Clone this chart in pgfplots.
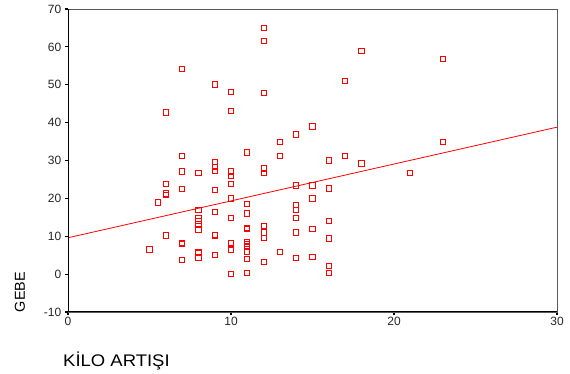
\documentclass[border=0pt]{standalone}
\usepackage{fontspec}
\setmainfont{Liberation Sans}
\newfontfamily\widefont[FakeStretch=1.1]{Liberation Sans}
\usepackage{pgfplots}
\pgfplotsset{compat=1.18}
\begin{document}
\begin{tikzpicture}
\useasboundingbox (0,0) rectangle (570bp,374bp);
\begin{axis}[
  at={(68bp,62bp)}, anchor=south west,
  scale only axis, width=489bp, height=303bp,
  xmin=0, xmax=30, ymin=-10, ymax=70,
  xtick={0,10,20,30}, ytick={-10,0,10,20,30,40,50,60,70},
  tick align=outside, xtick pos=left, ytick pos=left,
  major tick length=2.5bp,
  tick style={black, line width=1.2bp},
  axis line style={draw=black!65, line width=0.9bp},
  tick label style={font=\fontsize{12bp}{14bp}\selectfont, text=black!85},
  yticklabel style={inner sep=1bp, xshift=-3bp},
  xticklabel style={inner sep=1bp, yshift=-1bp},
  /pgf/number format/assume math mode=true,
]
\addplot[only marks, mark=square, mark size=2.6bp, draw=red, mark options={line width=0.9bp, fill=none}] table {
x y
5 6.5
5.5 18.9
6 42.7
6 23.9
6 21.3
6 21.0
6 10.2
7 54.1
7 31.3
7 27.1
7 22.4
7 8.2
7 8.0
7 3.8
8 26.8
8 17.0
8 14.7
8 14.1
8 13.1
8 11.8
8 5.9
8 5.6
8 4.3
9 50.1
9 29.7
9 28.3
9 27.2
9 22.2
9 16.5
9 10.4
9 10.2
9 5.1
10 48.0
10 43.0
10 27.1
10 26.0
10 23.9
10 20.0
10 14.9
10 8.3
10 6.5
10 6.3
10 0.1
11 32.1
11 18.6
11 16.0
11 12.2
11 11.9
11 8.4
11 7.9
11 7.5
11 5.9
11 4.0
11 0.4
12 65.0
12 61.5
12 47.8
12 27.9
12 26.7
12 12.8
12 11.0
12 9.6
12 3.3
13 35.0
13 31.1
13 5.9
14 36.9
14 23.4
14 18.3
14 17.0
14 14.9
14 11.0
14 4.3
15 39.0
15 23.4
15 20.0
15 12.0
15 4.6
16 30.0
16 22.6
16 14.1
16 9.4
16 2.2
16 0.4
17 51.0
17 31.1
18 59.0
18 29.2
21 26.8
23 56.8
23 35.0
};
\addplot[red, line width=0.8bp] coordinates {(0,9.6) (30,38.8)};
\draw[black, line width=1.8bp] (rel axis cs:0,1) -- (rel axis cs:0,0) -- (rel axis cs:1,0);
\end{axis}
\node[rotate=90, font=\fontsize{14.4bp}{16bp}\selectfont, inner sep=0pt] at (20bp,82bp) {GEBE};
\node[anchor=west, font=\widefont\fontsize{16.8bp}{19bp}\selectfont, inner sep=0pt] at (63bp,13bp) {KİLO ARTIŞI};
\end{tikzpicture}
\end{document}
